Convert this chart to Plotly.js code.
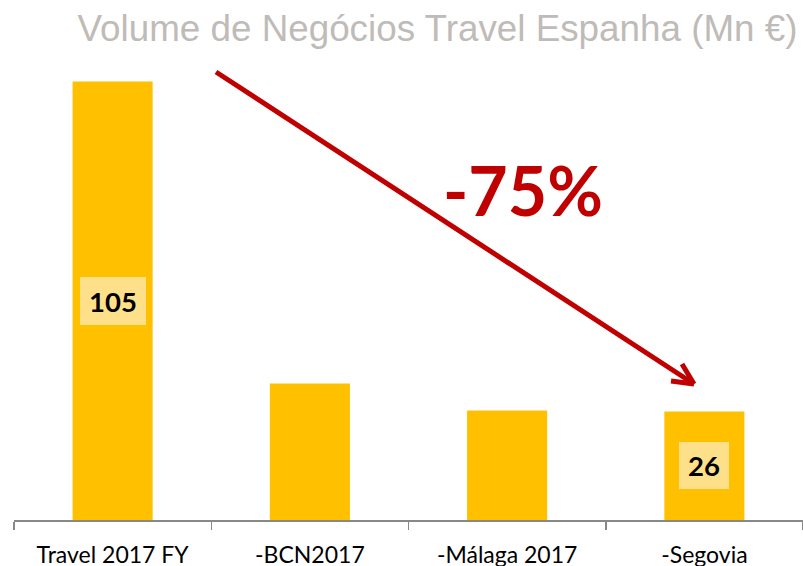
<!DOCTYPE html>
<html>
<head>
<meta charset="utf-8">
<script src="https://cdn.plot.ly/plotly-3.0.1.min.js"></script>
<style>html,body{margin:0;padding:0;background:#fff;}#chart{width:803px;height:566px;}</style>
</head>
<body>
<div id="chart"></div>
<script>
const categories = ["Travel 2017 FY", "-BCN2017", "-Málaga 2017", "-Segovia"];
const values = [105, 32.7, 26.2, 26];
const labelledIndex = [0, 3];
const labelText = ["105", "26"];
const changeText = "-75%";
const titleText = "Volume de Negócios Travel Espanha (Mn €)";

const W = 803, H = 566;
const M = {l: 14, r: 0, t: 20, b: 46};
const PW = W - M.l - M.r, PH = H - M.t - M.b;
const px = x => (x - M.l) / PW;
const py = y => (H - M.b - y) / PH;

const trace = {
  type: "bar",
  x: categories,
  y: values,
  marker: {color: "#FFC000"},
  hoverinfo: "none"
};

const boxSizes = [[66, 48], [50, 47]];
const annotations = labelledIndex.map((idx, k) => ({
  x: categories[idx], y: values[idx] / 2, xref: "x", yref: "y",
  text: "<b>" + labelText[k] + "</b>", showarrow: false,
  font: {family: "Lato, 'Open Sans', sans-serif", size: 27.5, color: "#000"},
  bgcolor: "#FFE08A", borderpad: 0, borderwidth: 0,
  width: boxSizes[k][0], height: boxSizes[k][1],
  xanchor: "center", yanchor: "middle", align: "center", valign: "middle"
}));
annotations.push({
  x: px(522.5), y: py(190), xref: "paper", yref: "paper",
  text: "<b>" + changeText + "</b>", showarrow: false,
  font: {family: "Lato, sans-serif", size: 68, color: "#C00000"},
  xanchor: "center", yanchor: "middle"
});

const red = "#C00000";
const tip = [694, 384];
const shapes = [
  [[216, 72], tip], [[682, 364], tip], [[671, 381], tip]
].map(([a, b]) => ({
  type: "line", xref: "paper", yref: "paper",
  x0: px(a[0]), y0: py(a[1]), x1: px(b[0]), y1: py(b[1]),
  line: {color: red, width: 5}
}));

const layout = {
  width: W, height: H,
  margin: M,
  paper_bgcolor: "#fff", plot_bgcolor: "#fff",
  showlegend: false,
  bargap: 0.594,
  title: {
    text: titleText,
    font: {family: "'Liberation Sans', Arial, sans-serif", size: 36.8, color: "#BFBBB8"},
    xref: "container", yref: "container",
    x: 437.5 / W, xanchor: "center",
    y: 1 - 28 / H, yanchor: "middle"
  },
  xaxis: {
    range: [-0.5, 3.5], fixedrange: true,
    showline: true, linecolor: "#888888", linewidth: 1.5,
    ticks: "outside", tickson: "boundaries", ticklen: 8, tickcolor: "#888888", tickwidth: 1.5,
    ticklabelstandoff: 14,
    showgrid: false, zeroline: false, automargin: false,
    tickfont: {family: "Lato, sans-serif", size: 23, color: "#000"}
  },
  yaxis: {
    range: [0, 119.7], visible: false, showgrid: false, zeroline: false, fixedrange: true
  },
  annotations: annotations,
  shapes: shapes
};

Plotly.newPlot("chart", [trace], layout, {displayModeBar: false, staticPlot: true});
</script>
</body>
</html>
